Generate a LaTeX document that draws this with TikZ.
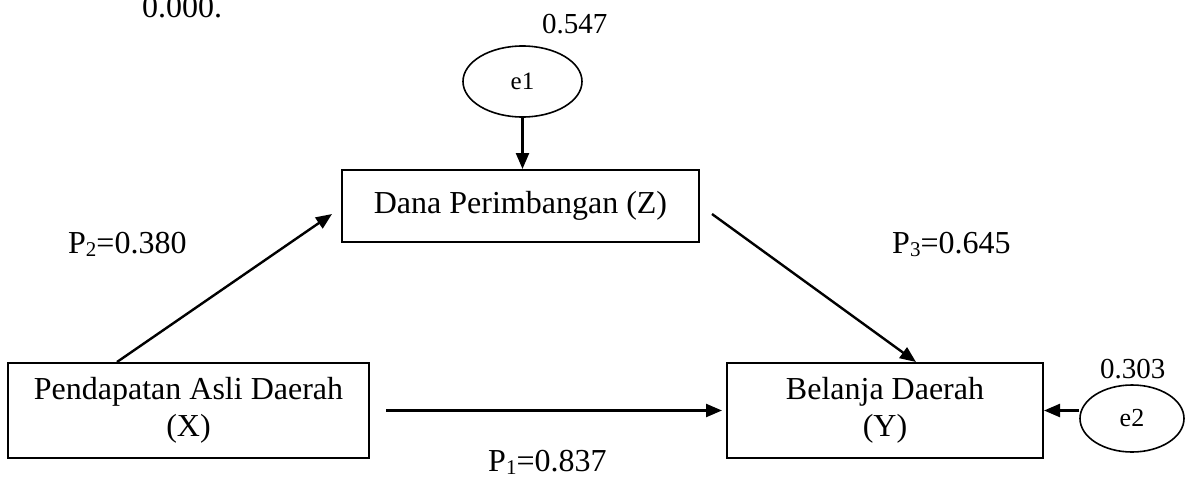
\documentclass[tikz,border=0pt]{standalone}
\usepackage{fontspec}
\setmainfont{Liberation Serif}
\usetikzlibrary{arrows.meta,shapes.geometric,calc}
\newcommand{\mysub}[1]{\raisebox{-0.12em}{\fontsize{21}{21}\selectfont #1}}
\begin{document}
\begin{tikzpicture}[x=1pt,y=-1pt,
 box/.style={draw,line width=2pt,inner sep=0pt,align=center,font=\fontsize{32}{37}\selectfont},
 err/.style={draw,ellipse,line width=1.6pt,inner sep=0pt},
 lab/.style={anchor=base west,inner sep=0pt,font=\fontsize{32}{37}\selectfont},
 val/.style={anchor=base west,inner sep=0pt,font=\fontsize{29}{34}\selectfont},
 arr/.style={line width=2.4pt,-{Triangle[length=16pt,width=13pt]}}]
\useasboundingbox (0,0) rectangle (1189,477);
\node[box,minimum width=357pt,minimum height=72pt] (Z) at (520.5,206) {Dana Perimbangan (Z)};
\node[box,minimum width=361pt,minimum height=95pt] (X) at (188.5,410.5) {Pendapatan Asli Daerah\\(X)};
\node[box,minimum width=316pt,minimum height=95pt] (Y) at (885,410.5) {Belanja Daerah\\(Y)};
\node[err,minimum width=119pt,minimum height=71pt,font=\fontsize{25}{30}\selectfont] (e1) at (522.5,81.5) {e1};
\node[err,minimum width=104pt,minimum height=67pt,font=\fontsize{26}{30}\selectfont] (e2) at (1132,418.5) {e2};
\draw[arr] (e1.south) -- (e1.south |- Z.north);
\draw[arr] ($(X.north west)+(110,0)$) -- ($(Z.south west)+(-9,-29)$);
\draw[arr] ($(Z.south east)+(12,-29)$) -- ($(Y.north west)+(190,0)$);
\draw[arr] ($(X.east)+(16,0)$) -- ($(Y.west)+(-4,0)$);
\draw[arr] (e2.west |- Y.east) -- (Y.east);
\node[lab] (p2) at (68,253) {P\mysub{2}=0.380};
\node[lab] (p3) at (892,253) {P\mysub{3}=0.645};
\node[lab] (p1) at (488,471) {P\mysub{1}=0.837};
\node[val] (v1) at (542,33) {0.547};
\node[val] (v2) at (1100,378) {0.303};
\node[lab] (v0) at (142,17) {0.000.};
\end{tikzpicture}
\end{document}
